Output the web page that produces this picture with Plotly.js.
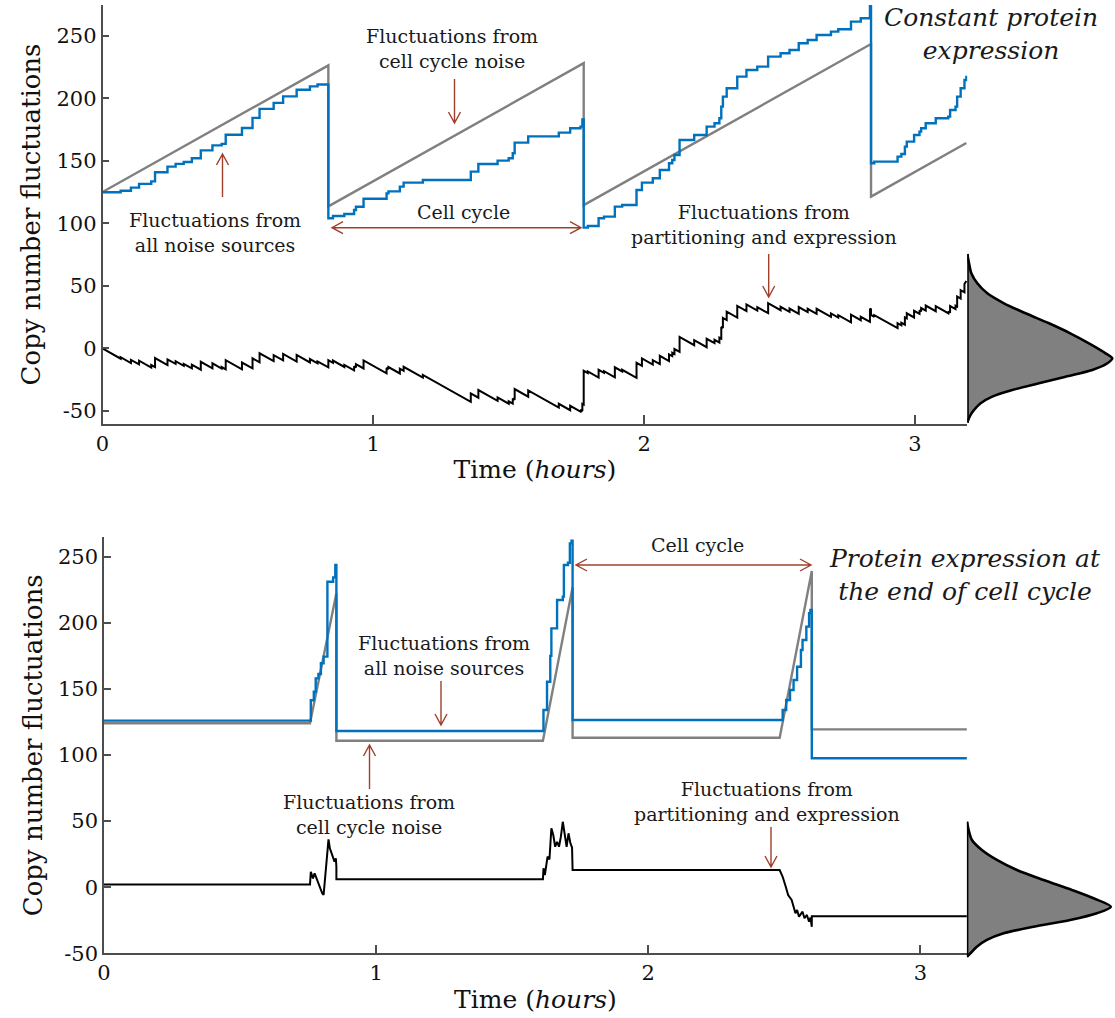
<!DOCTYPE html>
<html>
<head>
<meta charset="utf-8">
<script src="https://cdn.plot.ly/plotly-3.0.1.min.js"></script>
<style>
html,body{margin:0;padding:0;background:#ffffff;}
#chart{width:1115px;height:1018px;}
</style>
</head>
<body>
<div id="chart"></div>
<script>
// ---------------- DATA ----------------
// Top panel: constant protein expression
const topGrayT = [0, 0.834, 0.834, 1.777, 1.777, 2.838, 2.838, 3.19];
const topGrayY = [125, 226.3, 113.5, 228.1, 114.5, 243.4, 121.3, 164.2];

const topBlueT = [0, 0.067, 0.105, 0.135, 0.18, 0.194, 0.24, 0.27, 0.30, 0.33, 0.363, 0.406, 0.44, 0.455, 0.515, 0.554, 0.58, 0.632, 0.667, 0.717, 0.766, 0.794, 0.834,
  0.851, 0.893, 0.929, 0.936, 0.964, 1.049, 1.056, 1.098, 1.112, 1.183, 1.36, 1.388, 1.459, 1.50, 1.515, 1.522, 1.572, 1.685, 1.727, 1.765, 1.772, 1.777,
  1.792, 1.832, 1.852, 1.892, 1.919, 1.972, 1.992, 2.032, 2.058, 2.092, 2.104, 2.112, 2.131, 2.185, 2.231, 2.26, 2.278, 2.285, 2.291, 2.305, 2.344, 2.378, 2.418, 2.458, 2.504, 2.537, 2.571, 2.604, 2.637, 2.69, 2.717, 2.764, 2.80, 2.834, 2.838,
  2.850, 2.936, 2.95, 2.963, 2.97, 2.997, 3.017, 3.023, 3.04, 3.077, 3.123, 3.13, 3.15, 3.156, 3.169, 3.183, 3.19];
const topBlueY = [124.8, 126, 128.5, 131.5, 133.5, 140.8, 145.3, 147.5, 149, 152, 158.3, 162.3, 163.5, 170.8, 176.2, 184.3, 191.5, 196.3, 201.5, 206.8, 209.5, 211, 104,
  105.8, 107.4, 110.6, 113.2, 119.6, 123.9, 125.5, 129.3, 132.5, 134.6, 141.3, 147.4, 150.1, 152, 156, 164.5, 169.5, 172.5, 176, 177.3, 183, 96.5,
  97.8, 104, 105.3, 113.3, 114.6, 126.6, 132.5, 136, 142.6, 148, 150.6, 154.6, 166.6, 170.6, 177.3, 180, 184, 193.3, 201.3, 208, 217.3, 222.6, 225.3, 233.3, 236, 238.6, 244, 246.6, 250.6, 253.3, 255.2, 261.3, 264, 274.6, 148,
  149.3, 153.3, 155.4, 161.3, 165.3, 170.6, 173.3, 176, 180, 184, 185.3, 190.6, 193.3, 201.3, 208, 214.6, 218];

const topBlackT = [0, 0.067, 0.067, 0.105, 0.105, 0.135, 0.135, 0.18, 0.18, 0.194, 0.194, 0.24, 0.24, 0.27, 0.27, 0.30, 0.30, 0.33, 0.33, 0.363, 0.363, 0.406, 0.406, 0.44, 0.44, 0.455, 0.455, 0.515, 0.515, 0.554, 0.554, 0.58, 0.58, 0.632, 0.632, 0.667, 0.667, 0.717, 0.717, 0.766, 0.766, 0.794, 0.794, 0.834, 0.834,
  0.851, 0.851, 0.893, 0.893, 0.929, 0.929, 0.936, 0.936, 0.964, 0.964, 1.049, 1.049, 1.056, 1.056, 1.098, 1.098, 1.112, 1.112, 1.183, 1.183, 1.36, 1.36, 1.388, 1.388, 1.459, 1.459, 1.50, 1.50, 1.515, 1.515, 1.522, 1.522, 1.572, 1.572, 1.685, 1.685, 1.727, 1.727, 1.765, 1.765, 1.772, 1.772, 1.777, 1.777,
  1.792, 1.792, 1.832, 1.832, 1.852, 1.852, 1.892, 1.892, 1.919, 1.919, 1.972, 1.972, 1.992, 1.992, 2.032, 2.032, 2.058, 2.058, 2.092, 2.092, 2.104, 2.104, 2.112, 2.112, 2.131, 2.131, 2.185, 2.185, 2.231, 2.231, 2.26, 2.26, 2.278, 2.278, 2.285, 2.285, 2.291, 2.291, 2.305, 2.305, 2.344, 2.344, 2.378, 2.378, 2.418, 2.418, 2.458, 2.458, 2.504, 2.504, 2.537, 2.537, 2.571, 2.571, 2.604, 2.604, 2.637, 2.637, 2.69, 2.69, 2.717, 2.717, 2.764, 2.764, 2.80, 2.80, 2.834, 2.834, 2.838, 2.838,
  2.850, 2.850, 2.936, 2.936, 2.95, 2.95, 2.963, 2.963, 2.97, 2.97, 2.997, 2.997, 3.017, 3.017, 3.023, 3.023, 3.04, 3.04, 3.077, 3.077, 3.123, 3.123, 3.13, 3.13, 3.15, 3.15, 3.156, 3.156, 3.169, 3.169, 3.183, 3.183, 3.19];
const topBlackY = [0, -8.3, -7.1, -11.8, -9.3, -12.9, -9.9, -15.4, -13.4, -15.1, -7.8, -13.4, -8.9, -12.5, -10.3, -14, -12.5, -16.1, -13.1, -17.1, -10.8, -16, -12, -16.2, -15, -16.8, -9.5, -16.8, -11.4, -16.1, -8, -11.2, -4, -10.3, -5.5, -9.7, -4.5, -10.6, -5.3, -11.3, -8.6, -12, -10.5, -15.3, -9.5,
  -11.6, -9.8, -14.9, -13.3, -17.6, -14.4, -15.3, -12.7, -16.1, -9.7, -20, -15.7, -16.6, -15, -20.1, -16.3, -18, -14.8, -23.4, -21.3, -42.8, -36.1, -39.5, -33.4, -42, -39.3, -44.3, -42.4, -44.2, -40.2, -41.1, -32.6, -38.7, -33.7, -47.4, -44.4, -49.5, -46, -50.6, -49.3, -50.2, -44.5, -45.1, -18,
  -19.8, -18.5, -23.4, -17.2, -19.6, -18.3, -23.2, -15.2, -18.5, -17.2, -23.6, -11.6, -14, -8.1, -13, -9.5, -12.6, -6, -10.2, -4.8, -6.2, -3.6, -4.6, -0.6, -2.9, 9.1, 2.5, 6.5, 0.9, 7.6, 4.1, 6.8, 4.6, 8.6, 7.8, 17.1, 16.3, 24.3, 22.6, 29.3, 24.6, 33.9, 29.8, 35.1, 30.2, 32.9, 28.1, 36.1, 30.5, 33.2, 29.2, 31.8, 27.6, 33, 29, 31.6, 27.6, 31.6, 25.2, 27.9, 24.6, 26.5, 20.8, 26.9, 22.5, 25.2, 21.1, 31.7, 31.2, 26.7,
  25.2, 26.5, 16.1, 20.1, 18.4, 20.5, 18.9, 24.8, 24, 28, 24.7, 30, 27.6, 30.3, 29.5, 32.2, 30.2, 34.2, 29.7, 33.7, 28.1, 29.4, 28.5, 33.8, 31.4, 34.1, 33.4, 41.4, 39.8, 46.5, 44.8, 51.4, 53.9];

// distribution of the fluctuations (relative density) – top panel
const topDensValue = [75.4, 68, 60, 52, 44, 36, 28, 20, 12, 4, -4, -8, -12, -17.4, -22.7, -28, -33.4, -38.7, -44, -49.4, -54.7, -59.5];
const topDensity   = [0, 0.012, 0.028, 0.069, 0.138, 0.253, 0.402, 0.563, 0.710, 0.839, 0.954, 1.0, 0.966, 0.862, 0.678, 0.494, 0.310, 0.172, 0.092, 0.046, 0.016, 0];

// Bottom panel: protein expression at the end of the cell cycle
const botGrayT = [0, 0.757, 0.854, 0.854, 1.613, 1.722, 1.722, 2.483, 2.601, 2.601, 3.171];
const botGrayY = [124, 124, 222.3, 110.8, 110.8, 226.9, 113.1, 113.1, 239.2, 119.4, 119.4];

const botBlueT = [0, 0.760, 0.771, 0.778, 0.788, 0.797, 0.807, 0.821, 0.842, 0.850, 0.854,
  1.615, 1.628, 1.640, 1.644, 1.665, 1.686, 1.690, 1.705, 1.712, 1.718, 1.722,
  2.494, 2.507, 2.521, 2.534, 2.547, 2.561, 2.567, 2.581, 2.591, 2.596, 2.601, 3.171];
const botBlueY = [126, 141.4, 147.9, 158, 161.3, 169.4, 174.4, 231.1, 234.4, 243.7, 118.2,
  134, 155.4, 175, 195.8, 217.3, 219.8, 243.7, 245.5, 260.1, 262.1, 126.5,
  134, 141.6, 149.2, 156.7, 166.8, 179.4, 187, 197.1, 207.2, 209.7, 97.5, 97.5];

const botBlackT = [0, 0.757, 0.760, 0.768, 0.774, 0.783, 0.788, 0.797, 0.802, 0.807, 0.811, 0.817, 0.821, 0.825, 0.830, 0.836, 0.842, 0.847, 0.852, 0.854, 0.854,
  1.613, 1.615, 1.620, 1.630, 1.637, 1.644, 1.651, 1.658, 1.665, 1.672, 1.679, 1.686, 1.693, 1.700, 1.707, 1.714, 1.720, 1.722,
  2.483, 2.494, 2.507, 2.514, 2.527, 2.541, 2.547, 2.554, 2.567, 2.574, 2.583, 2.591, 2.596, 2.601, 2.601, 3.171];
const botBlackY = [2, 2, 11.7, 6.7, 10.5, 5.4, 2.9, -0.9, -4.6, -5.9, 2.9, 20.6, 30.6, 36.2, 29.4, 25.6, 23, 19.3, 21.9, 15.5, 6,
  6, 14.3, 9.2, 23.1, 21, 44.6, 39.5, 30.6, 34.4, 30.6, 38.2, 49.5, 40.8, 30.6, 40.8, 33.2, 30, 13,
  13, 7.9, -0.8, -5.9, -9.7, -19.7, -17.2, -22.3, -18.5, -23.5, -21, -26.1, -23, -29.9, -22, -22];

const botDensValue = [49.5, 43.3, 35.7, 28.1, 20.6, 13, 5.4, -2.1, -8.4, -14.8, -19.7, -24.8, -29.9, -34.9, -39.9, -45, -48.8, -52.6];
const botDensity   = [0, 0.012, 0.035, 0.104, 0.208, 0.347, 0.533, 0.729, 0.880, 1.0, 0.903, 0.717, 0.463, 0.255, 0.139, 0.069, 0.035, 0];

const xTickVals = [0, 1, 2, 3];
const xTickText = ['0', '1', '2', '3'];
const yTickVals = [-50, 0, 50, 100, 150, 200, 250];
const yTickText = ['-50', '0', '50', '100', '150', '200', '250'];

// ---------------- STYLE / LAYOUT ----------------
const W = 1115, H = 1018;
const px = x => x / W;
const py = y => 1 - y / H;
const FONT = 'DejaVu Serif, Liberation Serif, serif';
const BLUE = '#0072BD', GRAY = '#808080', BLACK = '#000000', RED = '#a0402c';
const AXC = '#4d4d4d';

function lineTrace(x, y, color, width, shape, xa, ya) {
  return {x: x, y: y, type: 'scatter', mode: 'lines', xaxis: xa, yaxis: ya,
          line: {color: color, width: width, shape: shape}, hoverinfo: 'skip', showlegend: false};
}
function densTraces(vals, dens, xa, ya) {
  const fill = {x: dens, y: vals, type: 'scatter', mode: 'lines', xaxis: xa, yaxis: ya,
    fill: 'toself', fillcolor: '#808080',
    line: {color: '#000', width: 2.6, shape: 'spline', smoothing: 0.8},
    hoverinfo: 'skip', showlegend: false};
  const base = {x: [dens[0], dens[dens.length - 1]], y: [vals[0], vals[vals.length - 1]],
    type: 'scatter', mode: 'lines', xaxis: xa, yaxis: ya,
    line: {color: '#000', width: 3}, hoverinfo: 'skip', showlegend: false};
  return [fill, base];
}

const data = [
  lineTrace(topGrayT, topGrayY, GRAY, 2.4, 'linear', 'x', 'y'),
  lineTrace(topBlueT, topBlueY, BLUE, 2.4, 'hv', 'x', 'y'),
  lineTrace(topBlackT, topBlackY, BLACK, 2, 'linear', 'x', 'y'),
  ...densTraces(topDensValue, topDensity, 'x3', 'y3'),
  lineTrace(botGrayT, botGrayY, GRAY, 2.4, 'linear', 'x2', 'y2'),
  lineTrace(botBlueT, botBlueY, BLUE, 2.4, 'hv', 'x2', 'y2'),
  lineTrace(botBlackT, botBlackY, BLACK, 2, 'linear', 'x2', 'y2'),
  ...densTraces(botDensValue, botDensity, 'x4', 'y4')
];

function mainX(domain, range, anchor) {
  return {domain: domain, range: range, anchor: anchor, showline: true, linecolor: AXC, linewidth: 1.5,
    ticks: 'inside', ticklen: 9, tickwidth: 1.5, tickcolor: AXC, tickmode: 'array', tickvals: xTickVals, ticktext: xTickText,
    tickfont: {family: FONT, size: 21, color: '#111'}, showgrid: false, zeroline: false,
    title: {text: 'Time (<i>hours</i>)', font: {family: FONT, size: 25, color: '#111'}, standoff: 6}};
}
function mainY(domain, range, anchor) {
  return {domain: domain, range: range, anchor: anchor, showline: true, linecolor: AXC, linewidth: 1.5,
    ticks: 'inside', ticklen: 7, tickwidth: 1.5, tickcolor: AXC, tickmode: 'array', tickvals: yTickVals, ticktext: yTickText,
    tickfont: {family: FONT, size: 21, color: '#111'}, showgrid: false, zeroline: false,
    title: {text: 'Copy number fluctuations', font: {family: FONT, size: 26, color: '#111'}, standoff: 8}};
}
function hidden(domain, range, anchor) {
  return {domain: domain, range: range, anchor: anchor, visible: false, showgrid: false, zeroline: false, fixedrange: true};
}

function arrow(x1, y1, x2, y2, both) {
  const L = 11, Hw = 6;
  const dx = x2 - x1, dy = y2 - y1, len = Math.hypot(dx, dy);
  const ux = dx / len, uy = dy / len, nx = -uy, ny = ux;
  let p = `M${px(x1)},${py(y1)} L${px(x2)},${py(y2)}`;
  p += ` M${px(x2 - L * ux + Hw * nx)},${py(y2 - L * uy + Hw * ny)} L${px(x2)},${py(y2)} L${px(x2 - L * ux - Hw * nx)},${py(y2 - L * uy - Hw * ny)}`;
  if (both) {
    p += ` M${px(x1 + L * ux + Hw * nx)},${py(y1 + L * uy + Hw * ny)} L${px(x1)},${py(y1)} L${px(x1 + L * ux - Hw * nx)},${py(y1 + L * uy - Hw * ny)}`;
  }
  return {type: 'path', xref: 'paper', yref: 'paper', path: p, line: {color: RED, width: 1.4}};
}

function label(text, cx, cy, size, italic) {
  return {xref: 'paper', yref: 'paper', x: px(cx), y: py(cy), xanchor: 'center', yanchor: 'middle',
    showarrow: false, align: 'center', text: italic ? '<i>' + text + '</i>' : text,
    font: {family: FONT, size: size, color: '#1a1a1a'}};
}

const shapes = [
  arrow(454.5, 79, 454.5, 123, false),
  arrow(222.5, 197, 222.5, 154, false),
  arrow(332, 227.7, 581, 227.7, true),
  arrow(768.7, 254, 768.7, 297, false),
  arrow(576, 565, 811, 565, true),
  arrow(441, 681, 441, 725, false),
  arrow(369.5, 789, 369.5, 745, false),
  arrow(771, 827, 771, 867, false)
];

const annotations = [
  label('Fluctuations from<br>cell cycle noise', 452, 49, 19, false),
  label('Fluctuations from<br>all noise sources', 215, 232, 19, false),
  label('Cell cycle', 463, 212, 19, false),
  label('Fluctuations from<br>partitioning and expression', 764, 225, 19, false),
  label('Constant protein<br>expression', 991, 34, 25, true),
  label('Cell cycle', 697, 545, 19, false),
  label('Protein expression at<br>the end of cell cycle', 965, 575, 25, true),
  label('Fluctuations from<br>all noise sources', 444, 655, 19, false),
  label('Fluctuations from<br>cell cycle noise', 369, 814, 19, false),
  label('Fluctuations from<br>partitioning and expression', 767, 801, 19, false)
];

const layout = {
  width: W, height: H,
  margin: {l: 0, r: 0, t: 0, b: 0, pad: 0},
  paper_bgcolor: '#ffffff', plot_bgcolor: 'rgba(0,0,0,0)',
  showlegend: false,
  font: {family: FONT, color: '#111'},
  xaxis: mainX([102.5 / W, 967.3 / W], [0, 3.1935], 'y'),
  yaxis: mainY([1 - 424 / H, 1 - 5 / H], [-60.56, 274.64], 'x'),
  xaxis2: mainX([104 / W, 966.9 / W], [0, 3.171], 'y2'),
  yaxis2: mainY([1 - 953.3 / H, 1 - 537.3 / H], [-50, 264.7], 'x2'),
  xaxis3: hidden([967.3 / W, 1], [0, 1.0186], 'y3'),
  yaxis3: hidden([1 - 424 / H, 1 - 5 / H], [-60.56, 274.64], 'x3'),
  xaxis4: hidden([966.9 / W, 1], [0, 1.0285], 'y4'),
  yaxis4: hidden([1 - 960 / H, 1 - 537.3 / H], [-55.07, 264.7], 'x4'),
  shapes: shapes,
  annotations: annotations
};

Plotly.newPlot('chart', data, layout, {displayModeBar: false, responsive: false});
</script>
</body>
</html>
